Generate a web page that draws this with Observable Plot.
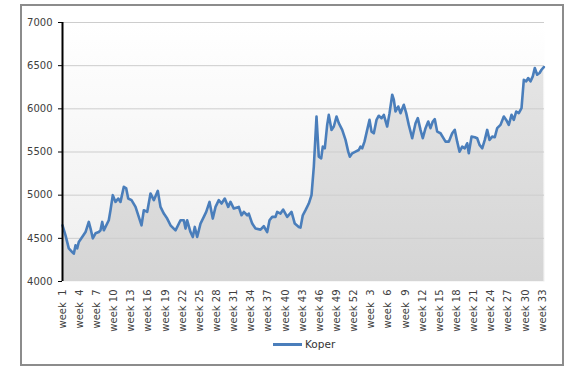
<!DOCTYPE html>
<html><head><meta charset="utf-8">
<script src="https://cdn.jsdelivr.net/npm/d3@7"></script>
<script src="https://cdn.jsdelivr.net/npm/@observablehq/plot@0.6"></script>
<style>
body{margin:0;background:#fff;font-family:"DejaVu Sans",sans-serif}
#wrap{position:relative;width:581px;height:374px;overflow:hidden}
#frame{position:absolute;left:20px;top:4px;width:544px;height:362px;border:2px solid #8c8c8c;box-sizing:border-box}
#chart{position:absolute;left:0;top:0}
#legend{position:absolute;left:273px;top:338px;display:flex;align-items:center;font-size:10.5px;color:#333}
#legend .sw{display:inline-block;width:29px;height:3px;background:#4a7ebb;margin-right:3px}
</style></head>
<body>
<div id="wrap"><div id="frame"></div><div id="chart"></div>
<div id="legend"><span class="sw"></span><span id="legtext"></span></div></div>
<script>
// Series name
const seriesName = "Koper";
// Position in weeks since "week 1" of the first year
const weekPos = [0,0.53,1.10,1.70,1.98,2.28,2.57,2.85,3.45,4.03,4.60,4.90,5.30,5.78,6.35,6.65,6.95,7.23,7.53,8.10,8.40,8.80,9.28,9.75,10.15,10.73,11.15,11.50,12.08,12.78,13.35,13.83,14.23,14.82,15.40,15.98,16.68,17.15,17.73,18.32,18.90,19.78,20.65,21.23,21.53,21.82,22.40,22.80,23.15,23.57,24.15,24.73,25.15,25.73,26.30,26.78,27.35,27.83,28.40,29.00,29.40,29.98,30.85,31.33,31.73,32.32,32.60,33.20,33.78,34.65,35.23,35.82,36.23,36.70,37.28,37.57,38.15,38.62,39.32,40.08,40.65,41.35,41.65,42.05,42.53,43.10,43.58,43.98,44.45,44.85,45.27,45.55,45.90,46.32,46.60,47.08,47.48,47.95,48.35,48.95,49.53,50.00,50.28,50.70,51.28,51.85,52.15,52.45,52.85,53.32,53.73,54.08,54.48,54.95,55.35,55.83,56.23,56.82,57.23,57.70,57.98,58.28,58.75,59.15,59.73,60.15,60.60,61.20,61.78,62.18,62.65,63.05,63.53,64.00,64.40,64.80,65.15,65.57,66.15,67.03,67.60,68.20,68.65,69.07,69.48,69.95,70.40,70.82,71.10,71.58,72.15,72.57,72.98,73.45,73.90,74.32,74.73,75.20,75.65,76.07,76.65,77.23,77.65,78.10,78.58,78.98,79.40,79.85,80.33,80.73,81.15,81.50,81.90,82.30,82.65,83.07,83.48,83.83,84.23];
// Price values
const price = [4651,4535,4384,4341,4322,4419,4384,4457,4515,4573,4690,4616,4500,4558,4573,4593,4690,4593,4632,4709,4826,5000,4922,4961,4922,5097,5078,4961,4942,4864,4748,4651,4826,4806,5020,4942,5050,4864,4787,4729,4651,4593,4709,4709,4613,4709,4573,4515,4632,4515,4671,4748,4806,4922,4729,4864,4942,4903,4961,4864,4922,4845,4864,4767,4806,4767,4787,4671,4613,4601,4640,4573,4709,4748,4748,4806,4787,4833,4748,4806,4671,4632,4624,4767,4826,4903,5000,5329,5911,5446,5427,5562,5543,5814,5930,5756,5795,5911,5834,5756,5640,5504,5446,5485,5504,5523,5562,5543,5620,5756,5872,5736,5717,5872,5920,5892,5930,5795,5950,6163,6105,5969,6027,5950,6047,5950,5814,5659,5834,5892,5756,5659,5776,5853,5776,5853,5880,5736,5717,5620,5620,5717,5756,5620,5504,5562,5543,5601,5485,5678,5671,5659,5582,5543,5640,5756,5640,5678,5671,5776,5814,5911,5872,5814,5930,5872,5969,5950,6008,6337,6318,6357,6318,6376,6473,6395,6415,6453,6484];
// Tick labels on the x axis (one every 3 weeks)
const tickWeeks = [1,4,7,10,13,16,19,22,25,28,31,34,37,40,43,46,49,52,3,6,9,12,15,18,21,24,27,30,33];
const tickStep = 3;
// y ticks
const yTicks = [4000,4500,5000,5500,6000,6500,7000];
const yGrid = [4500,5000,5500,6000,6500,7000];

const data = weekPos.map((w, i) => ({w, v: price[i]}));
const tickPos = tickWeeks.map((_, i) => i * tickStep);
const labelOf = new Map(tickPos.map((p, i) => [p, tickWeeks[i]]));
const fmt = p => { const n = labelOf.get(p); return n < 10 ? `week\u00a0\u00a0${n}` : `week ${n}`; };

const W = 581, H = 335, mT = 22, mB = 54, mL = 62, mR = 37;
const lineColor = "#4a7ebb";

const chart = Plot.plot({
  width: W, height: H,
  marginTop: mT, marginBottom: mB, marginLeft: mL, marginRight: mR,
  style: {fontFamily: "'DejaVu Sans', sans-serif", fontSize: "10px", background: "transparent", overflow: "visible"},
  x: {domain: [0, 84.35], axis: null},
  y: {domain: [4000, 7000], axis: null},
  marks: [
    Plot.frame({fill: "url(#bgGrad)", stroke: null}),
    Plot.areaY(data, {x: "w", y1: 4000, y2: "v", fill: "url(#areaGrad)"}),
    Plot.ruleY(yGrid, {stroke: "#cdcdcd", strokeWidth: 1}),
    Plot.line(data, {x: "w", y: "v", stroke: lineColor, strokeWidth: 2.6, strokeLinejoin: "round"}),
    Plot.ruleX([0], {stroke: "black", strokeWidth: 2}),
    Plot.axisY(yTicks, {tickSize: 4, tickPadding: 6, color: "black", fontSize: 10, tickFormat: d => String(d), label: null}),
    Plot.axisX(tickPos, {tickFormat: fmt, tickRotate: -90, tickSize: 0, tickPadding: 8, fontSize: 10, color: "#404040", label: null})
  ]
});

// gradients
const ns = "http://www.w3.org/2000/svg";
const defs = document.createElementNS(ns, "defs");
function grad(id, stops) {
  const g = document.createElementNS(ns, "linearGradient");
  g.setAttribute("id", id);
  g.setAttribute("gradientUnits", "userSpaceOnUse");
  g.setAttribute("x1", 0); g.setAttribute("x2", 0);
  g.setAttribute("y1", mT); g.setAttribute("y2", H - mB);
  for (const [o, c] of stops) {
    const s = document.createElementNS(ns, "stop");
    s.setAttribute("offset", o); s.setAttribute("stop-color", c);
    g.appendChild(s);
  }
  defs.appendChild(g);
}
grad("bgGrad", [[0, "#ffffff"], [1, "#eeeeee"]]);
grad("areaGrad", [[0, "#e8e8e8"], [1, "#d5d5d5"]]);
chart.insertBefore(defs, chart.firstChild);
d3.select(chart).selectAll('g[aria-label="y-axis tick label"]').attr("fill", "#404040");
d3.select(chart).selectAll('g[aria-label="y-axis tick label"] text').attr("fill", "#404040");

document.getElementById("chart").appendChild(chart);
document.getElementById("legtext").textContent = seriesName;
</script>
</body></html>
